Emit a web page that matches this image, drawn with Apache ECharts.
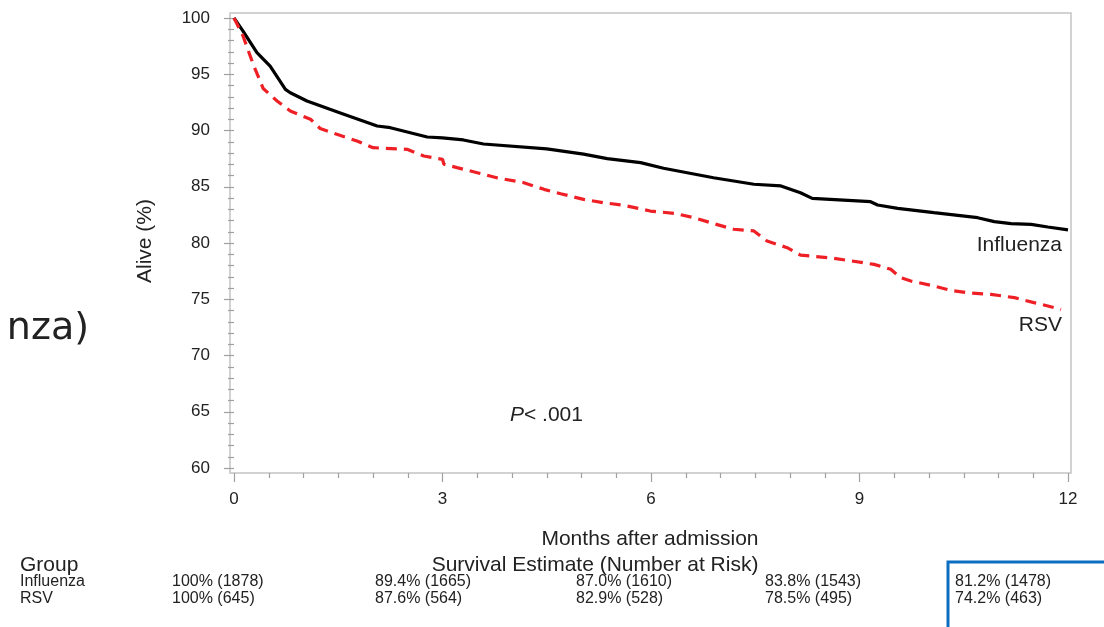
<!DOCTYPE html>
<html>
<head>
<meta charset="utf-8">
<script src="https://cdn.jsdelivr.net/npm/echarts@6/dist/echarts.min.js"></script>
<style>
html,body{margin:0;padding:0;background:#fff;}
#chart{width:1104px;height:627px;}
</style>
</head>
<body>
<div id="chart"></div>
<script>
// ---- data ----
const fluMonths = [0,0.13,0.33,0.52,0.74,0.81,1.05,1.38,1.57,2.06,2.25,2.78,3.0,3.3,3.59,4.5,5.03,5.37,5.85,6.18,6.9,7.48,7.87,8.15,8.32,9.16,9.26,9.55,10.07,10.7,10.94,11.18,11.47,11.71,12.0];
const fluAlive  = [100,98.84,96.92,95.73,93.66,93.36,92.62,91.88,91.47,90.4,90.25,89.42,89.35,89.16,88.8,88.36,87.9,87.5,87.14,86.64,85.8,85.22,85.07,84.47,83.97,83.67,83.38,83.08,82.7,82.25,81.9,81.72,81.66,81.42,81.16];
const rsvMonths = [0,0.13,0.28,0.42,0.62,0.81,1.1,1.24,1.48,1.77,2.0,2.49,2.73,3.0,3.02,3.21,3.5,3.78,4.17,4.46,4.7,5.03,5.32,5.61,5.99,6.33,6.62,6.86,7.19,7.48,7.67,7.96,8.15,8.63,9.21,9.45,9.59,9.74,10.07,10.31,10.55,10.89,11.23,11.51,11.71,11.9];
const rsvAlive  = [100,98.4,95.82,93.73,92.62,91.73,91.0,90.18,89.66,89.07,88.47,88.33,87.73,87.44,87.0,86.7,86.25,85.8,85.36,84.77,84.38,83.88,83.58,83.35,82.84,82.64,82.25,81.8,81.22,81.07,80.18,79.58,78.93,78.64,78.1,77.66,76.92,76.62,76.18,75.8,75.58,75.44,75.14,74.7,74.4,74.1];

const groups = ['Influenza','RSV'];
const tableInfluenza = ['100% (1878)','89.4% (1665)','87.0% (1610)','83.8% (1543)','81.2% (1478)'];
const tableRSV       = ['100% (645)','87.6% (564)','82.9% (528)','78.5% (495)','74.2% (463)'];
const tableColX = [172,375,576,765,955];

const xName = 'Months after admission';
const yName = 'Alive (%)';
const tableTitle = 'Survival Estimate (Number at Risk)';

// ---- chart ----
const FONT = '"Liberation Sans", Arial, sans-serif';
const chart = echarts.init(document.getElementById('chart'), null, {renderer:'canvas'});

const graphics = [
  {type:'rect', z:0, silent:true, shape:{x:230,y:13,width:841,height:460}, style:{fill:null, stroke:'#c4c4c4', lineWidth:1.5}},
  {type:'text', x:145, y:241, rotation:Math.PI/2, style:{text:yName, font:'21px '+FONT, fill:'#222', align:'center', verticalAlign:'middle'}},
  {type:'text', x:650, y:539, style:{text:xName, font:'21px '+FONT, fill:'#222', align:'center', verticalAlign:'middle'}},
  {type:'text', x:1062, y:245, style:{text:groups[0], font:'21px '+FONT, fill:'#222', align:'right', verticalAlign:'middle'}},
  {type:'text', x:1062, y:325, style:{text:groups[1], font:'21px '+FONT, fill:'#222', align:'right', verticalAlign:'middle'}},
  {type:'text', x:510, y:415, style:{text:'{i|P}< .001', font:'21px '+FONT, fill:'#222', align:'left', verticalAlign:'middle',
     rich:{i:{font:'italic 21px '+FONT, fill:'#222'}}}},
  {type:'text', x:20, y:565, style:{text:'Group', font:'21px '+FONT, fill:'#222', align:'left', verticalAlign:'middle'}},
  {type:'text', x:595, y:565, style:{text:tableTitle, font:'21px '+FONT, fill:'#222', align:'center', verticalAlign:'middle'}},
  {type:'text', x:20, y:582, style:{text:groups[0], font:'16px '+FONT, fill:'#222', align:'left', verticalAlign:'middle'}},
  {type:'text', x:20, y:599, style:{text:groups[1], font:'16px '+FONT, fill:'#222', align:'left', verticalAlign:'middle'}},
  {type:'text', x:89, y:329, style:{text:'nza)', font:'38px "DejaVu Sans", sans-serif', fill:'#222', align:'right', verticalAlign:'middle'}},
  {type:'polyline', silent:true, shape:{points:[[948,640],[948,562],[1110,562]]}, style:{stroke:'#0a6fc2', lineWidth:3, fill:null}}
];
tableInfluenza.forEach((t,i)=>graphics.push({type:'text', x:tableColX[i], y:582, style:{text:t, font:'16px '+FONT, fill:'#222', align:'left', verticalAlign:'middle'}}));
tableRSV.forEach((t,i)=>graphics.push({type:'text', x:tableColX[i], y:599, style:{text:t, font:'16px '+FONT, fill:'#222', align:'left', verticalAlign:'middle'}}));

chart.setOption({
  animation:false,
  backgroundColor:'#fff',
  grid:{left:234, right:36, top:18, bottom:159, containLabel:false},
  xAxis:{type:'value', min:0, max:12, interval:3, offset:5,
    axisLine:{show:false},
    axisTick:{show:true, length:9, lineStyle:{color:'#a0a0a0', width:1.2}},
    minorTick:{show:true, splitNumber:6, length:5, lineStyle:{color:'#a0a0a0', width:1.2}},
    splitLine:{show:false}, minorSplitLine:{show:false},
    axisLabel:{margin:18, fontSize:17, fontFamily:FONT, color:'#222'}
  },
  yAxis:{type:'value', min:60, max:100, interval:5, offset:4,
    axisLine:{show:false},
    axisTick:{show:true, length:10, lineStyle:{color:'#a0a0a0', width:1.2}},
    minorTick:{show:true, splitNumber:5, length:6, lineStyle:{color:'#a0a0a0', width:1.2}},
    splitLine:{show:false}, minorSplitLine:{show:false},
    axisLabel:{margin:20, fontSize:17, fontFamily:FONT, color:'#222'}
  },
  series:[
    {type:'line', name:'Influenza', showSymbol:false, symbol:'none', clip:false,
     data: fluMonths.map((m,i)=>[m, fluAlive[i]]),
     lineStyle:{color:'#000', width:3.2}},
    {type:'line', name:'RSV', showSymbol:false, symbol:'none', clip:false,
     data: rsvMonths.map((m,i)=>[m, rsvAlive[i]]),
     lineStyle:{color:'#ee2026', width:3.2, type:[11,7]}}
  ],
  graphic: graphics
});
</script>
</body>
</html>
